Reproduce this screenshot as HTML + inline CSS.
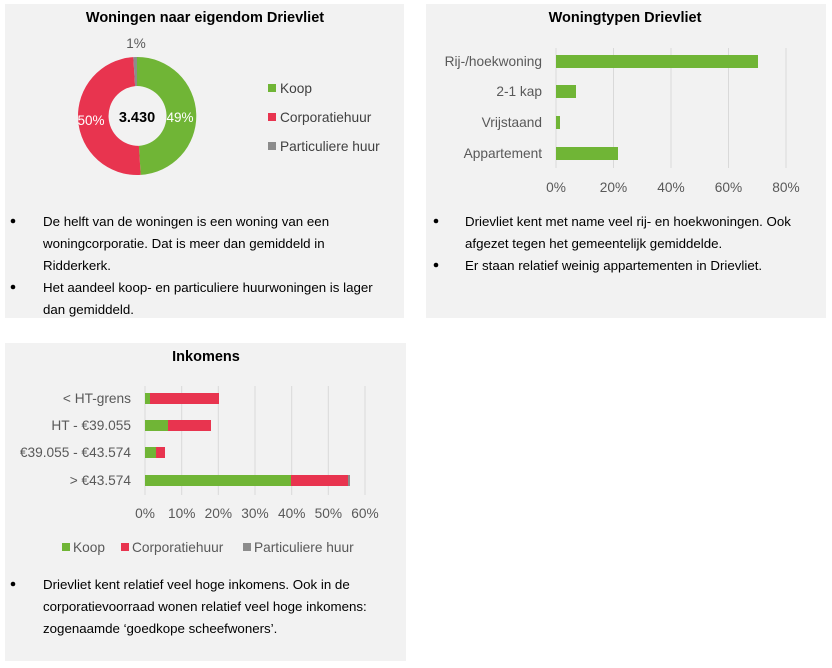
<!DOCTYPE html>
<html><head><meta charset="utf-8"><style>
html,body{margin:0;padding:0;background:#fff}
svg{display:block}
text{font-family:"Liberation Sans",sans-serif}
</style></head><body>
<svg width="832" height="668" viewBox="0 0 832 668" xmlns="http://www.w3.org/2000/svg">
<rect x="5" y="4" width="399" height="314" fill="#f2f2f2"/>
<rect x="426" y="4" width="400" height="314" fill="#f2f2f2"/>
<rect x="5" y="343" width="401" height="318" fill="#f2f2f2"/>

<!-- Panel 1 -->
<text x="205" y="22" font-size="14.5" font-weight="bold" text-anchor="middle" fill="#000">Woningen naar eigendom Drievliet</text>
<g transform="translate(137,116)">
<path d="M0,-59 A59,59 0 0 1 3.7,58.9 L1.9,29.9 A30,30 0 0 0 0,-30 Z" fill="#70b536"/>
<path d="M3.7,58.9 A59,59 0 0 1 -3.7,-58.9 L-1.9,-29.9 A30,30 0 0 0 1.9,29.9 Z" fill="#e8344f"/>
<path d="M-3.7,-58.9 A59,59 0 0 1 0,-59 L0,-30 A30,30 0 0 0 -1.9,-29.9 Z" fill="#8c8c8c"/>
</g>
<text x="137" y="122" font-size="14.5" font-weight="bold" text-anchor="middle">3.430</text>
<text x="180" y="122" font-size="13.5" fill="#fff" text-anchor="middle">49%</text>
<text x="91" y="125" font-size="13.5" fill="#fff" text-anchor="middle">50%</text>
<text x="136" y="48" font-size="13.5" fill="#595959" text-anchor="middle">1%</text>
<rect x="268" y="84" width="8" height="8" fill="#70b536"/><text x="280" y="93" font-size="13.7" fill="#404040">Koop</text>
<rect x="268" y="113" width="8" height="8" fill="#e8344f"/><text x="280" y="122" font-size="13.7" fill="#404040">Corporatiehuur</text>
<rect x="268" y="142" width="8" height="8" fill="#8c8c8c"/><text x="280" y="151" font-size="13.7" fill="#404040">Particuliere huur</text>
<g font-size="13.3" fill="#000">
<circle cx="13" cy="221" r="2.3"/><text x="43" y="226">De helft van de woningen is een woning van een</text>
<text x="43" y="248">woningcorporatie. Dat is meer dan gemiddeld in</text>
<text x="43" y="270">Ridderkerk.</text>
<circle cx="13" cy="287" r="2.3"/><text x="43" y="292">Het aandeel koop- en particuliere huurwoningen is lager</text>
<text x="43" y="314">dan gemiddeld.</text>
</g>

<!-- Panel 2 -->
<text x="625" y="22" font-size="14.5" font-weight="bold" text-anchor="middle">Woningtypen Drievliet</text>
<g stroke="#d9d9d9" stroke-width="1">
<line x1="556" y1="48" x2="556" y2="168"/><line x1="613.5" y1="48" x2="613.5" y2="168"/><line x1="671" y1="48" x2="671" y2="168"/><line x1="728.5" y1="48" x2="728.5" y2="168"/><line x1="786" y1="48" x2="786" y2="168"/>
</g>
<rect x="556" y="55" width="202" height="13" fill="#70b536"/>
<rect x="556" y="85" width="20" height="13" fill="#70b536"/>
<rect x="556" y="116" width="4" height="13" fill="#70b536"/>
<rect x="556" y="147" width="62" height="13" fill="#70b536"/>
<g font-size="13.7" fill="#595959" text-anchor="end">
<text x="542" y="66">Rij-/hoekwoning</text><text x="542" y="96">2-1 kap</text><text x="542" y="127">Vrijstaand</text><text x="542" y="158">Appartement</text>
</g>
<g font-size="13.7" fill="#595959" text-anchor="middle">
<text x="556" y="192">0%</text><text x="613.5" y="192">20%</text><text x="671" y="192">40%</text><text x="728.5" y="192">60%</text><text x="786" y="192">80%</text>
</g>
<g font-size="13.3" fill="#000">
<circle cx="436" cy="221" r="2.3"/><text x="465" y="226">Drievliet kent met name veel rij- en hoekwoningen. Ook</text>
<text x="465" y="248">afgezet tegen het gemeentelijk gemiddelde.</text>
<circle cx="436" cy="265" r="2.3"/><text x="465" y="270">Er staan relatief weinig appartementen in Drievliet.</text>
</g>

<!-- Panel 3 -->
<text x="206" y="361" font-size="14.5" font-weight="bold" text-anchor="middle">Inkomens</text>
<g stroke="#d9d9d9" stroke-width="1">
<line x1="145" y1="386" x2="145" y2="495"/><line x1="181.7" y1="386" x2="181.7" y2="495"/><line x1="218.3" y1="386" x2="218.3" y2="495"/><line x1="255" y1="386" x2="255" y2="495"/><line x1="291.7" y1="386" x2="291.7" y2="495"/><line x1="328.3" y1="386" x2="328.3" y2="495"/><line x1="365" y1="386" x2="365" y2="495"/>
</g>
<rect x="145" y="393" width="5" height="11" fill="#70b536"/><rect x="150" y="393" width="69" height="11" fill="#e8344f"/>
<rect x="145" y="420" width="23" height="11" fill="#70b536"/><rect x="168" y="420" width="43" height="11" fill="#e8344f"/>
<rect x="145" y="447" width="11" height="11" fill="#70b536"/><rect x="156" y="447" width="9" height="11" fill="#e8344f"/>
<rect x="145" y="475" width="146" height="11" fill="#70b536"/><rect x="291" y="475" width="57" height="11" fill="#e8344f"/><rect x="348" y="475" width="2" height="11" fill="#8c8c8c"/>
<g font-size="13.7" fill="#595959" text-anchor="end">
<text x="131" y="403">&lt; HT-grens</text><text x="131" y="430">HT - €39.055</text><text x="131" y="457">€39.055 - €43.574</text><text x="131" y="485">&gt; €43.574</text>
</g>
<g font-size="13.7" fill="#595959" text-anchor="middle">
<text x="145" y="518">0%</text><text x="181.7" y="518">10%</text><text x="218.3" y="518">20%</text><text x="255" y="518">30%</text><text x="291.7" y="518">40%</text><text x="328.3" y="518">50%</text><text x="365" y="518">60%</text>
</g>
<rect x="62" y="543" width="8" height="8" fill="#70b536"/><text x="73" y="552" font-size="13.7" fill="#595959">Koop</text>
<rect x="121" y="543" width="8" height="8" fill="#e8344f"/><text x="132" y="552" font-size="13.7" fill="#595959">Corporatiehuur</text>
<rect x="243" y="543" width="8" height="8" fill="#8c8c8c"/><text x="254" y="552" font-size="13.7" fill="#595959">Particuliere huur</text>
<g font-size="13.3" fill="#000">
<circle cx="13" cy="584" r="2.3"/><text x="43" y="589">Drievliet kent relatief veel hoge inkomens. Ook in de</text>
<text x="43" y="611">corporatievoorraad wonen relatief veel hoge inkomens:</text>
<text x="43" y="633">zogenaamde ‘goedkope scheefwoners’.</text>
</g>
</svg>
</body></html>
